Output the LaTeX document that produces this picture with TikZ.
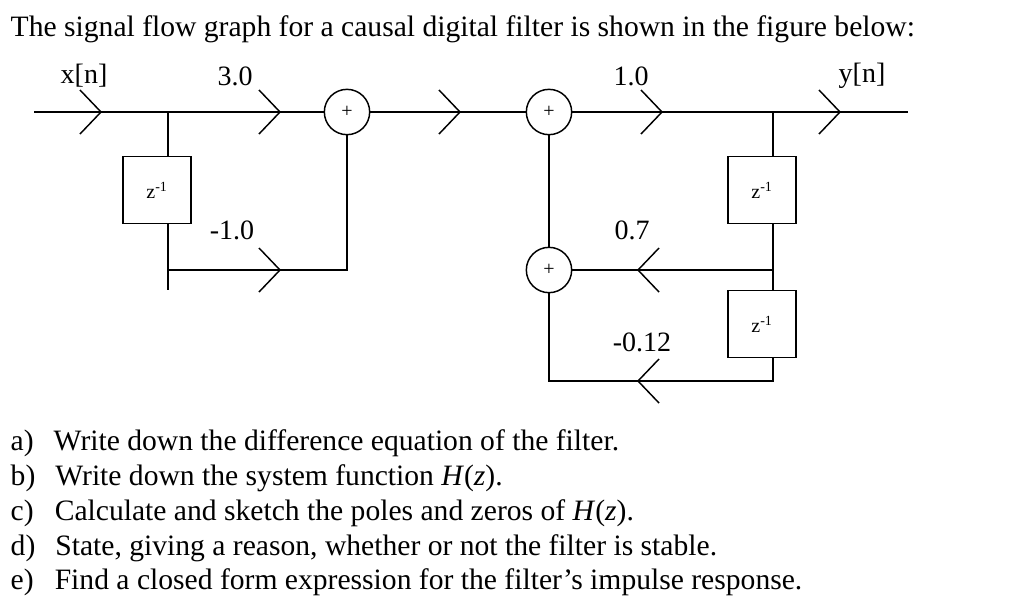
\documentclass[tikz,border=0pt]{standalone}
\usepackage{fontspec}
\setmainfont{Liberation Serif}
\begin{document}
\begin{tikzpicture}[x=0.75pt,y=-0.75pt,line width=1.1pt,
  lbl/.style={font=\fontsize{21}{23}\selectfont,inner sep=0pt},
  adder/.style={circle,draw,minimum size=34pt,inner sep=0pt,font=\fontsize{15}{15}\selectfont},
  delay/.style={draw,minimum width=51pt,minimum height=50pt,inner sep=0pt,font=\fontsize{15}{15}\selectfont},
  txt/.style={font=\fontsize{22.2}{24}\selectfont,inner sep=0pt,anchor=base west}]
\useasboundingbox (0,0) rectangle (1024,597);
\newcommand{\chevR}[1]{\draw (#1)++(-21,-22) -- (#1) -- ++(-21,22);}
\newcommand{\chevL}[1]{\draw (#1)++(21,-22) -- (#1) -- ++(21,22);}
\node[txt] (title) at (10,36) {The signal flow graph for a causal digital filter is shown in the figure below:};
\node[adder] (a1) at (347,112) {+};
\node[adder] (a2) at (549,112) {+};
\node[adder] (a3) at (549,270) {+};
\node[delay] (d1) at (157,190) {z\textsuperscript{-1}};
\node[delay] (d2) at (762,190) {z\textsuperscript{-1}};
\node[delay] (d3) at (762,324) {z\textsuperscript{-1}};
\coordinate (in) at (34,112);
\coordinate (out) at (908,112);
\coordinate (jl) at (168,112);
\coordinate (jlb) at (168,270);
\coordinate (jle) at (168,290);
\coordinate (jr) at (773,112);
\coordinate (jrm) at (773,270);
\coordinate (jrb) at (773,381);
\coordinate (a3b) at (549,381);
\coordinate (a1b) at (347,270);
\draw (in) -- (a1);
\draw (a1) -- (a2);
\draw (a2) -- (out);
\draw (jl) -- (jl |- d1.north);
\draw (jl |- d1.south) -- (jle);
\draw (jlb) -- (a1b) -- (a1);
\draw (a2) -- (a3);
\draw (jr) -- (jr |- d2.north);
\draw (jr |- d2.south) -- (jr |- d3.north);
\draw (jrm) -- (a3);
\draw (jr |- d3.south) -- (jrb) -- (a3b) -- (a3);
\coordinate (c1) at (101,112); \chevR{c1}
\coordinate (c2) at (280,112); \chevR{c2}
\coordinate (c3) at (460,112); \chevR{c3}
\coordinate (c4) at (662,112); \chevR{c4}
\coordinate (c5) at (840,112); \chevR{c5}
\coordinate (c6) at (280,270); \chevR{c6}
\coordinate (c7) at (638,270); \chevL{c7}
\coordinate (c8) at (638,381); \chevL{c8}
\node[lbl] (lx) at (84,76) {x[n]};
\node[lbl] (l3) at (235,76) {3.0};
\node[lbl] (l1) at (631,76) {1.0};
\node[lbl] (ly) at (862,76) {y[n]};
\node[lbl] (lm1) at (232,230) {-1.0};
\node[lbl] (l07) at (632,230) {0.7};
\node[lbl] (l012) at (642,342) {-0.12};
\node[txt] (qa) at (10,450) {a)\hspace{15pt}Write down the difference equation of the filter.};
\node[txt] (qb) at (10,485) {b)\hspace{15pt}Write down the system function \textit{H}(\textit{z}).};
\node[txt] (qc) at (10,520) {c)\hspace{15.8pt}Calculate and sketch the poles and zeros of \textit{H}(\textit{z}).};
\node[txt] (qd) at (10,555) {d)\hspace{15pt}State, giving a reason, whether or not the filter is stable.};
\node[txt] (qe) at (10,589) {e)\hspace{15.8pt}Find a closed form expression for the filter’s impulse response.};
\end{tikzpicture}
\end{document}
